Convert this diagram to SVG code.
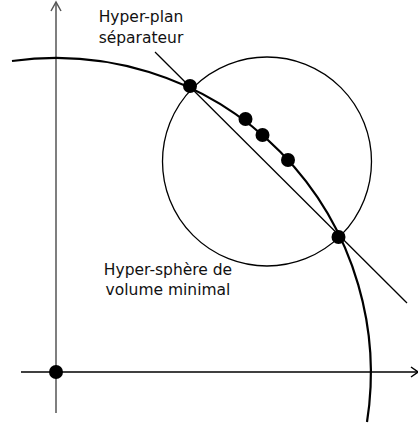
<svg xmlns="http://www.w3.org/2000/svg" width="418" height="425" viewBox="0 0 418 425">
<style>
.ax{fill:none;stroke-width:1.5}
.thin{fill:none;stroke:#000;stroke-width:1.3}
.arc{fill:none;stroke:#000;stroke-width:2.2}
.dot{fill:#000}
.lbl{font-family:"DejaVu Sans",sans-serif;font-size:15.5px;fill:#111;text-anchor:middle}
</style>
<rect width="418" height="425" fill="#fff"/>
<g id="connectors">
<line class="ax" stroke="#555" x1="56" y1="413" x2="56" y2="2"/>
<polyline class="ax" stroke="#555" points="51,11 56,2 61,11"/>
<line class="ax" stroke="#000" x1="21" y1="372" x2="418" y2="372"/>
<polyline class="ax" stroke="#000" points="411,367 418,372 411,377"/>
<path id="decision-boundary" class="arc" d="M 12 61 A 315 315 0 0 1 367 422"/>
<circle id="hypersphere" class="thin" cx="267" cy="161.5" r="104.5"/>
<line id="hyperplane" class="thin" x1="155" y1="52" x2="407" y2="303"/>
</g>
<g id="origin"><circle class="dot" cx="56" cy="372" r="7"/></g>
<g id="p1"><circle class="dot" cx="190" cy="86" r="7"/></g>
<g id="p2"><circle class="dot" cx="245.5" cy="119" r="7"/></g>
<g id="p3"><circle class="dot" cx="262.5" cy="135" r="7"/></g>
<g id="p4"><circle class="dot" cx="288" cy="160" r="7"/></g>
<g id="p5"><circle class="dot" cx="338.5" cy="237" r="7"/></g>
<g id="label-plan">
<text class="lbl" x="141" y="22">Hyper-plan</text>
<text class="lbl" x="141" y="43">séparateur</text>
</g>
<g id="label-sphere">
<text class="lbl" x="168" y="275">Hyper-sphère de</text>
<text class="lbl" x="168" y="295">volume minimal</text>
</g>
</svg>
